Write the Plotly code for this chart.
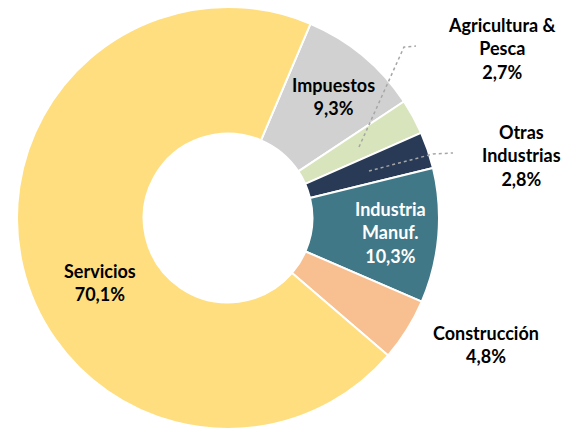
import plotly.graph_objects as go

# Data
sectores = ["Impuestos", "Agricultura & Pesca", "Otras Industrias",
            "Industria Manuf.", "Construcción", "Servicios"]
participacion = [9.3, 2.7, 2.8, 10.3, 4.8, 70.1]
etiquetas = ["Impuestos", "Agricultura &<br>Pesca", "Otras<br>Industrias",
             "Industria<br>Manuf.", "Construcción", "Servicios"]

colores = ["#D1D1D1", "#D8E4BC", "#283A55", "#417887", "#F8C090", "#FFDE80"]
colores_texto = ["#000000", "#000000", "#000000", "#FFFFFF", "#000000", "#000000"]

W, H = 581, 432
# label anchor positions in pixels (layout only)
pos_etiquetas = [(333, 97), (502, 48), (521, 155), (390, 232), (486, 344), (100, 282)]

fig = go.Figure(go.Pie(
    labels=sectores,
    values=participacion,
    sort=False,
    direction="clockwise",
    rotation=23,
    hole=0.40,
    marker=dict(colors=colores, line=dict(color="white", width=2)),
    textinfo="none",
    showlegend=False,
    domain=dict(x=[17 / W, 439 / W], y=[1 - 429 / H, 1 - 7 / H]),
))

for lab, val, col, (px, py) in zip(etiquetas, participacion, colores_texto, pos_etiquetas):
    txt = f"<b>{lab}<br>{str(val).replace('.', ',')}%</b>"
    fig.add_annotation(
        x=px / W, y=1 - py / H, xref="paper", yref="paper",
        text=txt, showarrow=False, align="center",
        xanchor="center", yanchor="middle",
        font=dict(family="Lato", size=18, color=col),
    )

# leader lines (dotted)
lineas = [
    [(359, 147), (404, 47), (416, 46)],
    [(369, 171), (433, 154), (453, 153)],
]
for pts in lineas:
    path = "M " + " L ".join(f"{x / W},{1 - y / H}" for x, y in pts)
    fig.add_shape(type="path", path=path, xref="paper", yref="paper",
                  line=dict(color="#A6A6A6", width=1.5, dash="dot"))

fig.update_layout(
    width=W, height=H,
    margin=dict(l=0, r=0, t=0, b=0),
    paper_bgcolor="white", plot_bgcolor="white",
)
fig.write_html("out.html", config={"displayModeBar": False},
               post_script="document.body.style.margin='0';")
